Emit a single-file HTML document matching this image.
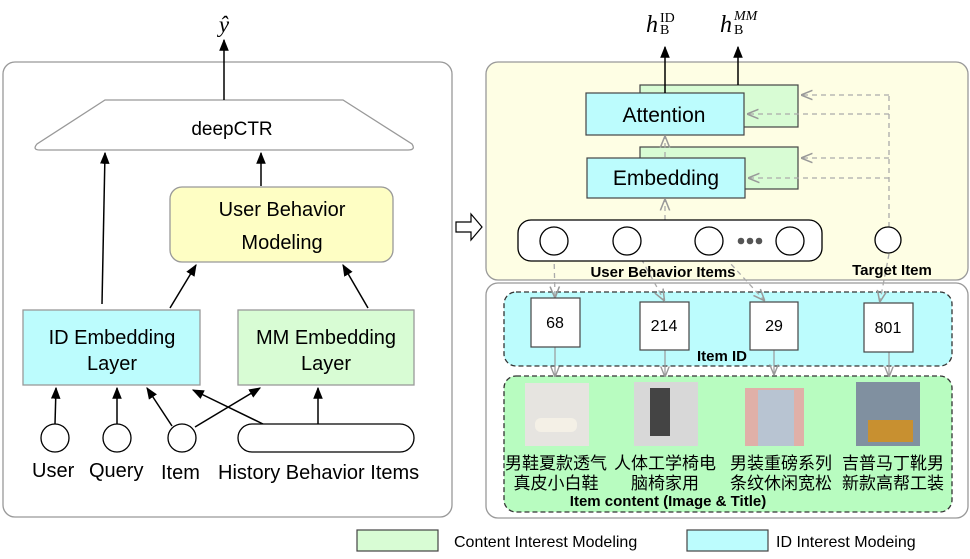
<!DOCTYPE html>
<html><head><meta charset="utf-8"><style>
body{margin:0;background:#fff;}
svg{display:block;font-family:"Liberation Sans","Noto Sans CJK SC",sans-serif;}
</style></head><body>
<svg width="970" height="559" viewBox="0 0 970 559" xmlns="http://www.w3.org/2000/svg">
<defs>
<marker id="a" viewBox="0 0 10 10" refX="9" refY="5" markerWidth="8" markerHeight="8" orient="auto-start-reverse"><path d="M0,1 L10,5 L0,9 z" fill="#000"/></marker>
<marker id="g" viewBox="0 0 10 10" refX="9" refY="5" markerWidth="9" markerHeight="9" orient="auto"><path d="M0,1 L10,5 L0,9" fill="none" stroke="#999" stroke-width="1.3"/></marker>
</defs>
<!-- left panel -->
<rect x="3" y="62" width="449" height="455" rx="12" fill="#fff" stroke="#999" stroke-width="1.3"/>
<path d="M105,100 L343,100 L412,144 Q416,150 408,150 L40,150 Q32,150 37,144 Z" fill="#fff" stroke="#999" stroke-width="1.3"/>
<text x="232" y="135" font-size="19" text-anchor="middle">deepCTR</text>
<line x1="224" y1="100" x2="224" y2="40" stroke="#000" stroke-width="1.5" marker-end="url(#a)"/>
<text x="224" y="32" font-size="23" font-style="italic" font-family="Liberation Serif,serif" text-anchor="middle">ŷ</text>
<rect x="170" y="187" width="223" height="75" rx="12" fill="#fefec4" stroke="#999" stroke-width="1.3"/>
<text x="282" y="216" font-size="20" text-anchor="middle">User Behavior</text>
<text x="282" y="249" font-size="20" text-anchor="middle">Modeling</text>
<rect x="23" y="310" width="177" height="75" fill="#bcfcfd" stroke="#999" stroke-width="1.3"/>
<text x="112" y="344" font-size="20" text-anchor="middle">ID Embedding</text>
<text x="112" y="370" font-size="20" text-anchor="middle">Layer</text>
<rect x="238" y="310" width="176" height="75" fill="#d8fcd4" stroke="#999" stroke-width="1.3"/>
<text x="326" y="344" font-size="20" text-anchor="middle">MM Embedding</text>
<text x="326" y="370" font-size="20" text-anchor="middle">Layer</text>
<g stroke="#000" stroke-width="1.5" fill="none" marker-end="url(#a)">
<line x1="102" y1="304" x2="105" y2="153"/>
<line x1="261" y1="186" x2="261" y2="153"/>
<line x1="170" y1="308" x2="196" y2="265"/>
<line x1="368" y1="308" x2="343" y2="265"/>
<line x1="55" y1="424" x2="56" y2="388"/>
<line x1="117" y1="424" x2="117" y2="388"/>
<line x1="172" y1="426" x2="147" y2="388"/>
<line x1="195" y1="427" x2="260" y2="388"/>
<line x1="263" y1="424" x2="193" y2="390"/>
<line x1="318" y1="424" x2="318" y2="388"/>
</g>
<g fill="#fff" stroke="#000" stroke-width="1.3">
<circle cx="55" cy="438" r="14"/><circle cx="117" cy="438" r="14"/><circle cx="182" cy="438" r="14"/>
<rect x="238" y="424" width="176" height="28" rx="14"/>
</g>
<g font-size="20"><text x="32" y="477">User</text><text x="89" y="477">Query</text><text x="161" y="479">Item</text><text x="218" y="479">History Behavior Items</text></g>
<path d="M456,222 L471,222 L471,214 L482,227 L471,240 L471,232 L456,232 Z" fill="#fff" stroke="#000" stroke-width="1.2"/>
<!-- right top -->
<rect x="486" y="62" width="482" height="218" rx="12" fill="#fefee4" stroke="#999" stroke-width="1.3"/>
<rect x="640" y="85" width="158" height="42" fill="#d8fcd4" stroke="#444" stroke-width="1.2"/>
<rect x="586" y="93" width="158" height="42" fill="#bcfcfd" stroke="#444" stroke-width="1.2"/>
<text x="664" y="122" font-size="21" text-anchor="middle">Attention</text>
<rect x="640" y="147" width="158" height="42" fill="#d8fcd4" stroke="#444" stroke-width="1.2"/>
<rect x="587" y="158" width="158" height="40" fill="#bcfcfd" stroke="#444" stroke-width="1.2"/>
<text x="666" y="185" font-size="21" text-anchor="middle">Embedding</text>
<g stroke="#000" stroke-width="1.5" marker-end="url(#a)"><line x1="665" y1="93" x2="665" y2="47"/><line x1="738" y1="85" x2="738" y2="47"/></g>
<text x="646" y="32" font-size="24" font-style="italic" font-family="Liberation Serif,serif">h</text>
<text x="660" y="22" font-size="14" font-family="Liberation Serif,serif">ID</text>
<text x="660" y="34" font-size="14" font-family="Liberation Serif,serif">B</text>
<text x="720" y="32" font-size="24" font-style="italic" font-family="Liberation Serif,serif">h</text>
<text x="734" y="20" font-size="14" font-style="italic" font-family="Liberation Serif,serif">MM</text>
<text x="734" y="34" font-size="14" font-family="Liberation Serif,serif">B</text>
<g stroke="#aaa" stroke-width="1.3" stroke-dasharray="5,4" fill="none">
<line x1="889" y1="227" x2="889" y2="95"/>
<line x1="889" y1="95" x2="802" y2="95" marker-end="url(#g)"/>
<line x1="889" y1="114" x2="748" y2="114" marker-end="url(#g)"/>
<line x1="889" y1="158" x2="802" y2="158" marker-end="url(#g)"/>
<line x1="889" y1="178" x2="749" y2="178" marker-end="url(#g)"/>
<line x1="665" y1="220" x2="665" y2="200" marker-end="url(#g)"/>
<line x1="665" y1="157" x2="665" y2="137" marker-end="url(#g)"/>
</g>
<!-- right bottom -->
<rect x="486" y="283" width="482" height="235" rx="12" fill="#fff" stroke="#999" stroke-width="1.3"/>
<rect x="504" y="292" width="448" height="74" rx="12" fill="#bcfcfd" stroke="#333" stroke-width="1.3" stroke-dasharray="5,3"/>
<rect x="504" y="376" width="448" height="136" rx="12" fill="#b8fcc0" stroke="#333" stroke-width="1.3" stroke-dasharray="5,3"/>
<g stroke="#aaa" stroke-width="1.3" stroke-dasharray="5,4" fill="none">
<line x1="554" y1="255" x2="555" y2="297" marker-end="url(#g)"/>
<line x1="637" y1="251" x2="664" y2="300" marker-end="url(#g)"/>
<line x1="719" y1="251" x2="764" y2="300" marker-end="url(#g)"/>
<line x1="889" y1="254" x2="880" y2="301" marker-end="url(#g)"/>
</g>
<rect x="518" y="220" width="304" height="41" rx="13" fill="#fff" stroke="#000" stroke-width="1.3"/>
<g fill="#fff" stroke="#000" stroke-width="1.3">
<circle cx="554" cy="241" r="14"/><circle cx="627" cy="241" r="14"/><circle cx="709" cy="241" r="14"/><circle cx="790" cy="241" r="14"/><circle cx="888" cy="240" r="13"/>
</g>
<g fill="#555"><circle cx="741" cy="241" r="3.3"/><circle cx="750" cy="241" r="3.3"/><circle cx="759" cy="241" r="3.3"/></g>
<text x="663" y="277" font-size="15" font-weight="bold" text-anchor="middle">User Behavior Items</text>
<text x="892" y="275" font-size="15" font-weight="bold" text-anchor="middle">Target Item</text>
<g stroke="#999" stroke-width="1.2" fill="none" marker-end="url(#g)">
<line x1="555" y1="347" x2="555" y2="376"/><line x1="665" y1="350" x2="665" y2="376"/><line x1="774" y1="350" x2="774" y2="374"/><line x1="889" y1="352" x2="889" y2="376"/>
</g>
<g fill="#fff" stroke="#444" stroke-width="1.2">
<rect x="531" y="298" width="49" height="49"/><rect x="640" y="302" width="49" height="48"/><rect x="750" y="302" width="48" height="48"/><rect x="864" y="303" width="49" height="49"/>
</g>
<g font-size="16" text-anchor="middle"><text x="555" y="328">68</text><text x="664" y="331">214</text><text x="774" y="331">29</text><text x="888" y="333">801</text></g>
<text x="722" y="361" font-size="15" font-weight="bold" text-anchor="middle">Item ID</text>
<rect x="525" y="383" width="64" height="63" fill="#e6e4e0"/>
<rect x="535" y="418" width="42" height="14" rx="6" fill="#f4f0e6"/>
<rect x="634" y="382" width="64" height="64" fill="#d8d8d8"/>
<rect x="650" y="388" width="20" height="48" fill="#444"/>
<rect x="745" y="388" width="59" height="58" fill="#e0b0a8"/>
<rect x="758" y="390" width="36" height="56" fill="#b8c4d2"/>
<rect x="856" y="382" width="64" height="64" fill="#8090a0"/>
<rect x="868" y="420" width="45" height="22" fill="#c89030"/>
<g font-size="17" text-anchor="middle">
<text x="556" y="469">男鞋夏款透气</text><text x="556" y="489">真皮小白鞋</text>
<text x="665" y="469">人体工学椅电</text><text x="665" y="489">脑椅家用</text>
<text x="781" y="469">男装重磅系列</text><text x="781" y="489">条纹休闲宽松</text>
<text x="893" y="469">吉普马丁靴男</text><text x="893" y="489">新款高帮工装</text>
</g>
<text x="668" y="506" font-size="15" font-weight="bold" text-anchor="middle">Item content (Image &amp; Title)</text>
<!-- legend -->
<rect x="357" y="530" width="81" height="21" fill="#d8fcd4" stroke="#444" stroke-width="1.2"/>
<text x="454" y="547" font-size="16">Content Interest Modeling</text>
<rect x="687" y="530" width="81" height="21" fill="#bcfcfd" stroke="#444" stroke-width="1.2"/>
<text x="776" y="547" font-size="16">ID Interest Modeing</text>
</svg>
</body></html>
